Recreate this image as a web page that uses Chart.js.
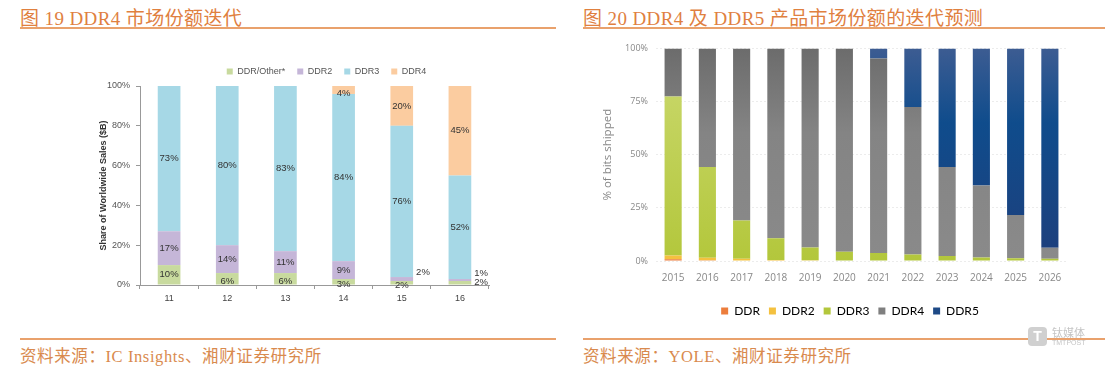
<!DOCTYPE html>
<html lang="zh-CN">
<head>
  <meta charset="UTF-8">
  <title>DDR4 / DDR5 市场份额</title>
  <script src="https://cdn.jsdelivr.net/npm/chart.js"></script>
  <style>
    body { margin: 0; width: 1114px; height: 370px; background: #fff; position: relative; overflow: hidden; }
    .title { position: absolute; top: 3px; font-family: "Liberation Serif", "Noto Sans CJK SC", serif; font-size: 19px; letter-spacing: 0.4px; color: #e0803f; white-space: nowrap; }
    .src { position: absolute; top: 343px; font-family: "Liberation Serif", "Noto Sans CJK SC", serif; font-size: 16.5px; letter-spacing: 0.6px; color: #d98a4e; white-space: nowrap; }
    .rule { position: absolute; height: 1.5px; background: #e9a16c; }
    canvas { position: absolute; }
    .wm { position: absolute; left: 1028px; top: 327px; font-family: "Noto Sans CJK SC", sans-serif; color: #c4c4c4; }
    .wm .box { position: absolute; left: 0; top: 0; width: 19px; height: 19px; border-radius: 4px; background: #d0d0d0; color: #fff; font: bold 14px "Liberation Sans"; text-align: center; line-height: 19px; }
    .wm .t1 { position: absolute; left: 24px; top: -3px; font-size: 11px; white-space: nowrap; }
    .wm .t2 { position: absolute; left: 24px; top: 12px; font-size: 7px; font-family: "Liberation Sans"; white-space: nowrap; }
  </style>
</head>
<body>
  <div class="title" style="left:20px">图 19 DDR4 市场份额迭代</div>
  <div class="rule" style="left:20px; top:27px; width:536px"></div>
  <div class="title" style="left:583px">图 20 DDR4 及 DDR5 产品市场份额的迭代预测</div>
  <div class="rule" style="left:583px; top:27px; width:522px"></div>

  <canvas id="leftChart" style="left:90px; top:55px" width="470" height="255"></canvas>
  <canvas id="rightChart" style="left:583px; top:35px" width="527" height="295"></canvas>

  <div class="rule" style="left:20px; top:338px; width:536px"></div>
  <div class="src" style="left:20px">资料来源：IC Insights、湘财证券研究所</div>
  <div class="rule" style="left:583px; top:338px; width:522px"></div>
  <div class="src" style="left:583px">资料来源：YOLE、湘财证券研究所</div>
  <div class="wm"><div class="box">T</div><div class="t1">钛媒体</div><div class="t2">TMTPOST</div></div>

  <script>
    // Figure 19: DDR share of worldwide sales ($B)
    const years = ["11", "12", "13", "14", "15", "16"];
    const ddrOther = [10, 6, 6, 3, 2, 2];
    const ddr2 = [17, 14, 11, 9, 2, 1];
    const ddr3 = [73, 80, 83, 84, 76, 52];
    const ddr4 = [0, 0, 0, 4, 20, 45];
    const leftTicks = [0, 20, 40, 60, 80, 100];

    // Figure 20: % of bits shipped forecast
    const forecastYears = ["2015", "2016", "2017", "2018", "2019", "2020", "2021", "2022", "2023", "2024", "2025", "2026"];
    const fDDR  = [0.8, 0.3, 0, 0, 0, 0, 0, 0, 0, 0, 0, 0];
    const fDDR2 = [1.8, 1.2, 1.0, 0.5, 0.3, 0.2, 0, 0, 0, 0, 0, 0];
    const fDDR3 = [74.8, 42.7, 18, 10.2, 6.0, 4.1, 3.8, 3.0, 2.4, 1.7, 1.3, 1.0];
    const fDDR4 = [22.6, 55.8, 81, 89.3, 93.7, 95.7, 91.5, 69.4, 41.8, 33.8, 20.3, 5.2];
    const fDDR5 = [0, 0, 0, 0, 0, 0, 4.7, 27.6, 55.8, 64.5, 78.4, 93.8];
    const rightTicks = [0, 25, 50, 75, 100];

    // nudge the legend sideways (the source legends are centred on the plot, not the canvas)
    const legendShift = {
      id: "legendShift",
      afterLayout(chart, args, opts) {
        if (!chart.legend || !opts.dx) return;
        chart.legend.left += opts.dx;
        chart.legend.right += opts.dx;
      }
    };

    // value labels for the left chart
    const barLabels = {
      id: "barLabels",
      afterDatasetsDraw(chart) {
        const ctx = chart.ctx;
        ctx.save();
        ctx.font = "9.5px 'Liberation Sans'";
        ctx.fillStyle = "#333";
        ctx.textBaseline = "middle";
        chart.data.datasets.forEach((ds, di) => {
          chart.getDatasetMeta(di).data.forEach((bar, i) => {
            const v = ds.data[i];
            if (!v) return;
            let x = bar.x, y = (bar.y + bar.base) / 2;
            ctx.textAlign = "center";
            if (v <= 2 && (di === 1 || i === 5)) {
              ctx.textAlign = "left";
              x = bar.x + bar.width / 2 + 3;
              y = di === 0 ? y : y - 7;
            } else if (v <= 6) {
              y += 3;
            }
            ctx.fillText(v + "%", x, y);
          });
        });
        ctx.restore();
      }
    };

    new Chart(document.getElementById("leftChart"), {
      type: "bar",
      data: {
        labels: years,
        datasets: [
          { label: "DDR/Other*", data: ddrOther, backgroundColor: "#c8da9e" },
          { label: "DDR2", data: ddr2, backgroundColor: "#c5b6d8" },
          { label: "DDR3", data: ddr3, backgroundColor: "#a6d8e6" },
          { label: "DDR4", data: ddr4, backgroundColor: "#fbcca0" }
        ]
      },
      options: {
        responsive: false,
        animation: false,
        barPercentage: 0.39,
        categoryPercentage: 1,
        layout: { padding: { left: 6, right: 71, top: 0, bottom: 0 } },
        plugins: {
          legend: {
            labels: { boxWidth: 6, boxHeight: 6, font: { size: 9, family: "Liberation Sans" }, color: "#555", padding: 12 }
          },
          legendShift: { dx: 34 },
          tooltip: { enabled: false }
        },
        scales: {
          x: {
            stacked: true,
            grid: { offset: true, drawOnChartArea: false, tickLength: 4, color: "#999" },
            border: { color: "#999" },
            ticks: { font: { size: 9, family: "Liberation Sans" }, color: "#444", padding: 4 },
            afterFit(s) { s.height = 25; }
          },
          y: {
            stacked: true,
            min: 0, max: 100,
            afterBuildTicks(s) { s.ticks = leftTicks.map(v => ({ value: v })); },
            grid: { drawOnChartArea: false, tickLength: 4, color: "#999" },
            border: { color: "#999" },
            ticks: { font: { size: 9, family: "Liberation Sans" }, color: "#555", padding: 6, callback: v => v + "%" },
            title: { display: true, text: "Share of Worldwide Sales ($B)", font: { size: 9, weight: "bold", family: "Liberation Sans" }, color: "#333", padding: 2 },
            afterFit(s) { s.width = 44; }
          }
        }
      },
      plugins: [barLabels, legendShift]
    });

    const rctx = document.getElementById("rightChart").getContext("2d");
    const grad = (stops) => {
      const g = rctx.createLinearGradient(0, 14, 0, 225);
      stops.forEach(([p, c]) => g.addColorStop(p, c));
      return g;
    };

    new Chart(rctx, {
      type: "bar",
      data: {
        labels: forecastYears,
        datasets: [
          { label: "DDR", data: fDDR, backgroundColor: "#ec7d3c" },
          { label: "DDR2", data: fDDR2, backgroundColor: "#f4c13f" },
          { label: "DDR3", data: fDDR3, backgroundColor: grad([[0, "#cbd96f"], [1, "#b3c73c"]]) },
          { label: "DDR4", data: fDDR4, backgroundColor: grad([[0, "#6c6c6c"], [0.4, "#848484"], [1, "#8a8a8a"]]) },
          { label: "DDR5", data: fDDR5, backgroundColor: grad([[0, "#3c5c92"], [0.35, "#0f4c8c"], [1, "#1e3f7c"]]) }
        ]
      },
      options: {
        responsive: false,
        animation: false,
        barPercentage: 0.5,
        categoryPercentage: 1,
        layout: { padding: { left: 0, right: 43, top: 11, bottom: 3 } },
        plugins: {
          legend: {
            position: "bottom",
            labels: {
              boxWidth: 7, boxHeight: 7, padding: 9,
              font: { size: 12, family: "Lato" }, color: "#777",
              generateLabels(chart) {
                const fills = ["#ec7d3c", "#f4c13f", "#b3c73c", "#7f7f7f", "#1e4a86"];
                return chart.data.datasets.map((ds, i) => ({ text: ds.label, fillStyle: fills[i], strokeStyle: fills[i], lineWidth: 0, datasetIndex: i }));
              }
            }
          },
          legendShift: { dx: 25 },
          tooltip: { enabled: false }
        },
        scales: {
          x: {
            stacked: true,
            grid: { display: false },
            border: { display: false },
            ticks: { font: { size: 10, family: "Open Sans" }, color: "#888", padding: 3 },
            afterFit(s) { s.height = 35; }
          },
          y: {
            stacked: true,
            min: 0, max: 100,
            afterBuildTicks(s) { s.ticks = rightTicks.map(v => ({ value: v })); },
            grid: { color: "#ececec", tickLength: 0 },
            border: { display: false, dash: [2, 2] },
            ticks: { font: { size: 9, family: "Open Sans" }, color: "#888", padding: 8, callback: v => v + "%" },
            title: { display: true, text: "% of bits shipped", font: { size: 11.5, family: "Open Sans" }, color: "#888", padding: { top: 18, bottom: 0 } },
            afterFit(s) { s.width = 73; }
          }
        }
      },
      plugins: [legendShift]
    });
  </script>
</body>
</html>
